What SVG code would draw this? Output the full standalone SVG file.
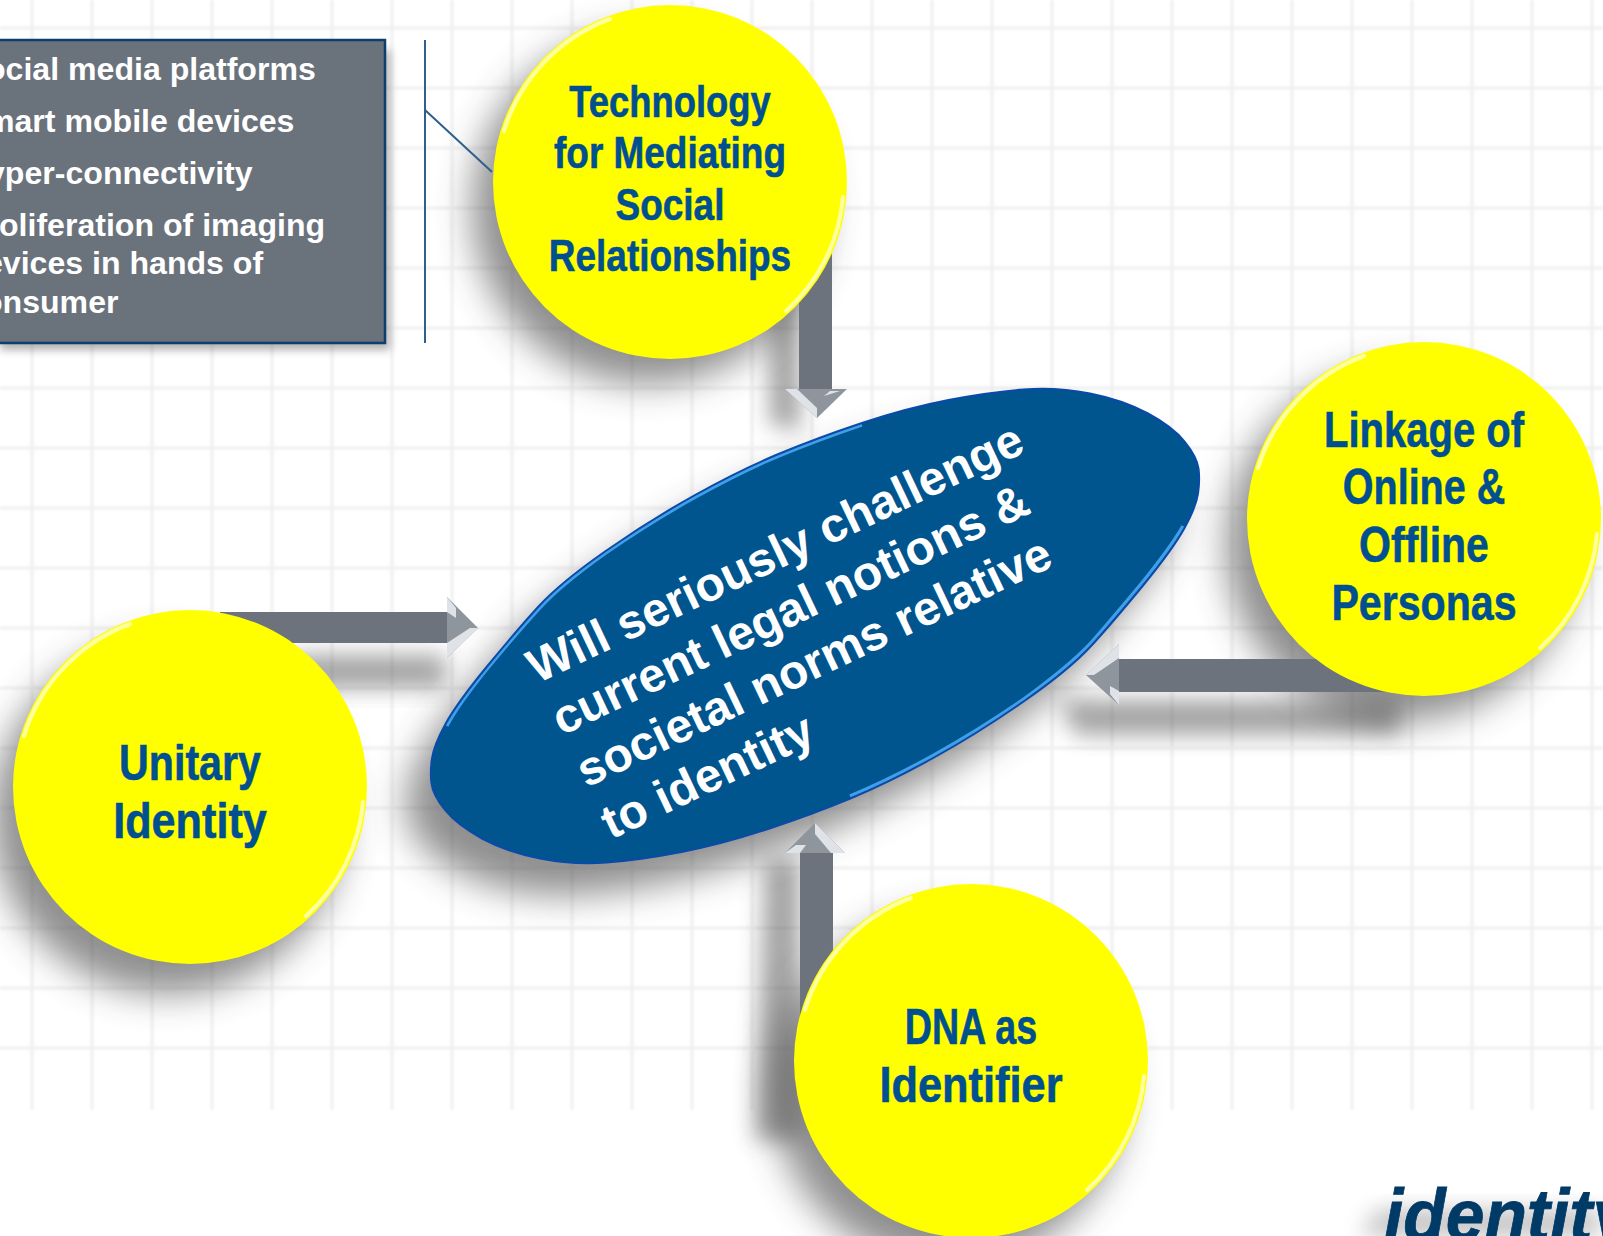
<svg xmlns="http://www.w3.org/2000/svg" width="1603" height="1236" viewBox="0 0 1603 1236">
<style>
.b{font-family:"Liberation Sans",Arial,sans-serif;font-weight:700}
.bx{fill:#fff;font-size:32.1px}
.c{fill:#004f90;text-anchor:middle;stroke:#004f90;stroke-width:.6}
.c44{font-size:44px}.c50{font-size:50px}
.m{fill:#fff;font-size:47.9px}
.disc{fill:#ffff00}
.rim{fill:none;stroke:#ffffa0;stroke-width:4;stroke-linecap:round}
.sh{fill:#444;opacity:.6;filter:url(#blur)}
.sh2{fill:#4a4a4a;opacity:.5;filter:url(#blur2)}
.shaft{fill:#6c737c}
.head{fill:#8f959c}
.facet{fill:#dfe3e7}
</style>
<defs>
<filter id="blur" x="-30%" y="-30%" width="160%" height="160%"><feGaussianBlur stdDeviation="18"/></filter>
<filter id="blur2" x="-60%" y="-60%" width="220%" height="220%"><feGaussianBlur stdDeviation="11"/></filter>
<filter id="blur3" x="-10%" y="-10%" width="120%" height="120%"><feGaussianBlur stdDeviation="4"/></filter>
<filter id="soft" x="-5%" y="-5%" width="110%" height="110%"><feGaussianBlur stdDeviation="1"/></filter>
<path id="oval" d="M432 758.5Q434 745 445.5 724Q457 703 487 666.5Q517 630 538.5 606.5Q560 583 605 551.5Q650 520 695 495Q740 470 778.5 454Q817 438 862 423Q907 408 948.5 400Q990 392 1023.5 389.5Q1057 387 1090 393.5Q1123 400 1148 413.5Q1173 427 1185 442Q1197 457 1198.5 468.5Q1200 480 1198 493.5Q1196 507 1184.5 528Q1173 549 1143 585.5Q1113 622 1091.5 645.5Q1070 669 1025 700.5Q980 732 935 757Q890 782 851.5 798Q813 814 768 829Q723 844 681.5 852Q640 860 606.5 862.5Q573 865 540 858.5Q507 852 482 838.5Q457 825 445 810Q433 795 431.5 783.5Q430 772 432 758.5Z"/>
<g id="rims"><path class="rim" d="M-166 -51A174 174 0 0 1 -60 -163"/><path class="rim" d="M173 15A174 174 0 0 1 116 129"/></g>
</defs>
<rect width="1603" height="1236" fill="#fff"/>
<g id="grid" stroke="#f0f0f0" stroke-width="3" fill="none" filter="url(#soft)">
<path d="M32 0V1110M92 0V1110M152 0V1110M212 0V1110M272 0V1110M332 0V1110M392 0V1110M452 0V1110M512 0V1110M572 0V1110M632 0V1110M692 0V1110M752 0V1110M812 0V1110M872 0V1110M932 0V1110M992 0V1110M1052 0V1110M1112 0V1110M1172 0V1110M1232 0V1110M1292 0V1110M1352 0V1110M1412 0V1110M1472 0V1110M1532 0V1110M1592 0V1110"/>
<path d="M0 28H1603M0 88H1603M0 148H1603M0 208H1603M0 268H1603M0 328H1603M0 388H1603M0 448H1603M0 508H1603M0 568H1603M0 628H1603M0 688H1603M0 748H1603M0 808H1603M0 868H1603M0 928H1603M0 988H1603M0 1048H1603"/>
</g>
<g id="shadows">
<rect x="0" y="50" width="390" height="300" fill="#555" opacity=".45" filter="url(#blur3)"/>
<path class="sh2" d="M768 280H800V430L770 425Z"/>
<path class="sh2" d="M290 655H445V688H300Z"/>
<path class="sh2" d="M1060 700H1400V735H1075Z"/>
<path class="sh2" d="M765 860H800V1140H755Z"/>
<circle class="sh" cx="648" cy="208" r="176"/>
<circle class="sh" cx="1402" cy="545" r="176"/>
<circle class="sh" cx="168" cy="818" r="176"/>
<circle class="sh" cx="949" cy="1090" r="176"/>
<use href="#oval" class="sh" x="-25" y="32"/>
<path d="M1360 1236L1378 1210L1600 1210V1236Z" fill="#666" opacity=".4" filter="url(#blur2)"/>
</g>
<g id="connectors">
<path fill="none" stroke="#2f5f8a" stroke-width="2" d="M425 40V343M425 110L492 172"/>
<g id="arrow-top"><rect class="shaft" x="799" y="250" width="33" height="140"/><path class="head" d="M785 389H847L817 418Z"/><path class="facet" d="M785 389H797L817 408V418Z"/><path class="facet" d="M824 396L840 391H830Z"/></g>
<g id="arrow-left"><rect class="shaft" x="220" y="612" width="228" height="31"/><path class="head" d="M447 597L478 628L447 658Z"/><path class="facet" d="M447 658V643L470 628L478 628Z"/><path class="facet" d="M447 597L456 608V618L447 612Z"/></g>
<g id="arrow-right"><rect class="shaft" x="1118" y="659" width="280" height="33"/><path class="head" d="M1119 644L1086 675L1119 705Z"/><path class="facet" d="M1119 644V658L1094 675H1086Z"/><path class="facet" d="M1119 705L1110 694V686L1119 691Z"/></g>
<g id="arrow-bottom"><rect class="shaft" x="800" y="852" width="33" height="170"/><path class="head" d="M785 853H845L815 823Z"/><path class="facet" d="M815 823L845 853H831L815 834Z"/><path class="facet" d="M785 853H800L806 845H796Z"/></g>
</g>
<g id="box">
<rect x="-4" y="40" width="389" height="303" fill="#6a727c" stroke="#0c3f6b" stroke-width="2.5"/>
<text class="b bx" x="-14" y="80">ocial media platforms</text>
<text class="b bx" x="-14" y="132">mart mobile devices</text>
<text class="b bx" x="-13" y="184">yper-connectivity</text>
<text class="b bx" x="-1" y="236">oliferation of imaging</text>
<text class="b bx" x="-15" y="274">evices in hands of</text>
<text class="b bx" x="-17" y="313">onsumer</text>
</g>
<g id="node-tech">
<circle class="disc" cx="670" cy="182" r="177"/>
<use href="#rims" x="670" y="182"/>
<g class="b c c44">
<text y="117" transform="translate(670 0) scale(.827 1)">Technology</text><text y="168" transform="translate(670 0) scale(.84 1)">for Mediating</text><text y="220" transform="translate(670 0) scale(.84 1)">Social</text><text y="271" transform="translate(670 0) scale(.84 1)">Relationships</text></g>
</g>
<g id="node-linkage">
<circle class="disc" cx="1424" cy="519" r="177"/>
<use href="#rims" x="1424" y="519"/>
<g class="b c c50"><text y="447" transform="translate(1424 0) scale(.8 1)">Linkage of</text><text y="504" transform="translate(1424 0) scale(.79 1)">Online &amp;</text><text y="562" transform="translate(1424 0) scale(.82 1)">Offline</text><text y="620" transform="translate(1424 0) scale(.823 1)">Personas</text></g>
</g>
<g id="node-unitary">
<circle class="disc" cx="190" cy="787" r="177"/>
<use href="#rims" x="190" y="787"/>
<g class="b c c50"><text y="780" transform="translate(190 0) scale(.824 1)">Unitary</text><text y="838" transform="translate(190 0) scale(.864 1)">Identity</text></g>
</g>
<g id="node-dna">
<circle class="disc" cx="971" cy="1061" r="177"/>
<use href="#rims" x="971" y="1061"/>
<g class="b c c50"><text y="1044" transform="translate(971 0) scale(.753 1)">DNA as</text><text y="1102" transform="translate(971 0) scale(.868 1)">Identifier</text></g>
</g>
<g id="node-center">
<use href="#oval" fill="#00558f"/>
<path d="M447 726Q458 705 488 668Q518 632 540 608Q561 585 606 553Q651 522 696 497Q741 472 779 456Q818 440 862 425" fill="none" stroke="#3f9fe8" stroke-width="3"/>
<path d="M1183 526Q1171 547 1141 584Q1111 620 1090 644Q1068 667 1024 699Q979 730 934 755Q889 780 850 796" fill="none" stroke="#3f9fe8" stroke-width="3.500"/>
<use href="#oval" fill="none" stroke="#0a4aa8" stroke-width="2"/>
<g class="b m" transform="translate(537 684) rotate(-25.4)"><text x="0" y="0">Will seriously challenge</text><text x="0" y="57.5">current legal notions &amp;</text><text x="0" y="115">societal norms relative</text><text x="0" y="172.5">to identity</text></g>
</g>
<g id="logo"><text class="b" y="1240" font-size="72" font-style="italic" fill="#003a66" stroke="#003a66" stroke-width=".8" transform="translate(1384 0) scale(.965 1)">identity</text></g>
</svg>
